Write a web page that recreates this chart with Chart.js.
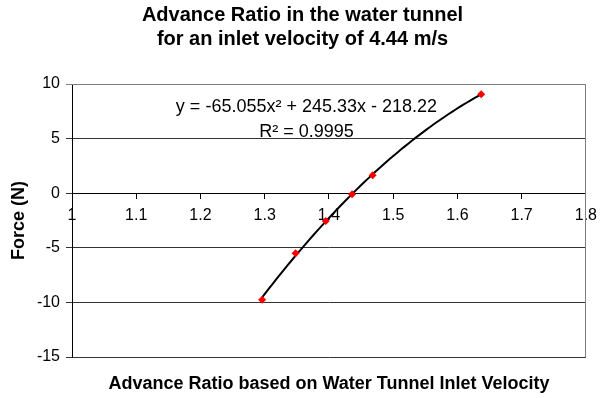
<!DOCTYPE html>
<html>
<head>
<meta charset="utf-8">
<script src="https://cdn.jsdelivr.net/npm/chart.js@4.4.1/dist/chart.umd.min.js"></script>
<style>
  html, body { margin: 0; padding: 0; background: #fff; }
</style>
</head>
<body>
<canvas id="chart" width="605" height="398"></canvas>
<script>
  // data
  const advanceRatio = [1.296, 1.348, 1.395, 1.436, 1.468, 1.637];
  const forceN = [-9.75, -5.5, -2.55, -0.1, 1.65, 9.05];
  const xTicks = [1, 1.1, 1.2, 1.3, 1.4, 1.5, 1.6, 1.7, 1.8];
  const yTicks = [-15, -10, -5, 0, 5, 10];
  // polynomial trendline, as printed on the chart
  const trendCoef = [-65.055, 245.33, -218.22];
  const trendLabel = ["y = -65.055x\u00b2 + 245.33x - 218.22", "R\u00b2 = 0.9995"];
  const chartTitle = ["Advance Ratio in the water tunnel", "for an inlet velocity of 4.44 m/s"];
  const xTitle = "Advance Ratio based on Water Tunnel Inlet Velocity";
  const yTitle = "Force (N)";

  const FONT = "'Liberation Sans', Arial, sans-serif";
  Chart.defaults.font.family = FONT;
  Chart.defaults.color = "#000";

  // grey plot-area border on top and right
  const frame = {
    id: "frame",
    beforeDatasetsDraw(chart) {
      const { ctx, chartArea: a } = chart;
      ctx.save();
      ctx.strokeStyle = "#808080";
      ctx.lineWidth = 1;
      ctx.beginPath();
      const t = Math.round(a.top) + 0.5, r = Math.round(a.right) - 0.5;
      ctx.moveTo(a.left - 6, t);
      ctx.lineTo(r, t);
      ctx.lineTo(r, a.bottom);
      ctx.stroke();
      ctx.restore();
    },
  };

  // trendline + its label, plus the chart and x-axis titles
  const trend = {
    id: "trend",
    beforeDatasetsDraw(chart) {
      const { ctx, scales } = chart;
      const lo = Math.min(...advanceRatio), hi = Math.max(...advanceRatio);
      const f = (x) => trendCoef[0] * x * x + trendCoef[1] * x + trendCoef[2];
      ctx.save();
      ctx.strokeStyle = "#000";
      ctx.lineWidth = 2;
      ctx.beginPath();
      const n = 60;
      for (let i = 0; i <= n; i++) {
        const x = lo + ((hi - lo) * i) / n;
        const px = scales.x.getPixelForValue(x), py = scales.y.getPixelForValue(f(x));
        i ? ctx.lineTo(px, py) : ctx.moveTo(px, py);
      }
      ctx.stroke();
      ctx.restore();
    },
    afterDraw(chart) {
      const { ctx, scales, chartArea: a } = chart;
      ctx.save();
      ctx.fillStyle = "#000";
      ctx.textAlign = "center";
      ctx.textBaseline = "middle";

      ctx.font = "18px " + FONT;
      const cx = scales.x.getPixelForValue(1.365);
      ctx.fillText(trendLabel[0], cx, scales.y.getPixelForValue(7.9));
      ctx.fillText(trendLabel[1], cx, scales.y.getPixelForValue(5.6));

      ctx.font = "bold 20px " + FONT;
      ctx.fillText(chartTitle[0], chart.width / 2, 15);
      ctx.fillText(chartTitle[1], chart.width / 2, 39);

      ctx.font = "bold 18px " + FONT;
      ctx.fillText(xTitle, (a.left + a.right) / 2, 384);
      ctx.restore();
    },
  };

  new Chart(document.getElementById("chart"), {
    type: "scatter",
    data: {
      datasets: [
        {
          data: advanceRatio.map((x, i) => ({ x, y: forceN[i] })),
          backgroundColor: "#ff0000",
          borderColor: "#ff0000",
          pointStyle: "rectRot",
          pointRadius: 4,
          borderWidth: 0,
        },
      ],
    },
    options: {
      responsive: false,
      animation: false,
      layout: { padding: { left: 0, right: 12, top: 84, bottom: 41 } },
      plugins: {
        legend: { display: false },
        tooltip: { enabled: false },
      },
      scales: {
        x: {
          type: "linear",
          position: { y: 0 },
          min: xTicks[0],
          max: xTicks[xTicks.length - 1],
          afterBuildTicks: (s) => { s.ticks = xTicks.map((v) => ({ value: v })); },
          ticks: { font: { size: 16 }, color: "#000", padding: 8, maxRotation: 0,
                   callback: (v) => String(v) },
          grid: { drawOnChartArea: false, tickLength: 5, color: "#000" },
          border: { color: "#000" },
        },
        y: {
          min: yTicks[0],
          max: yTicks[yTicks.length - 1],
          afterBuildTicks: (s) => { s.ticks = yTicks.map((v) => ({ value: v })); },
          afterFit: (s) => { s.width = 72; },
          ticks: { font: { size: 16 }, color: "#000", padding: 6 },
          grid: {
            color: (c) => (c.tick && c.tick.value === yTicks[yTicks.length - 1] ? "#808080" : "#333"),
            tickLength: 6,
          },
          border: { color: "#000" },
          title: {
            display: true,
            text: yTitle,
            font: { size: 18, weight: "bold" },
            color: "#000",
            padding: { top: 8, bottom: 0 },
          },
        },
      },
    },
    plugins: [frame, trend],
  });
</script>
</body>
</html>
